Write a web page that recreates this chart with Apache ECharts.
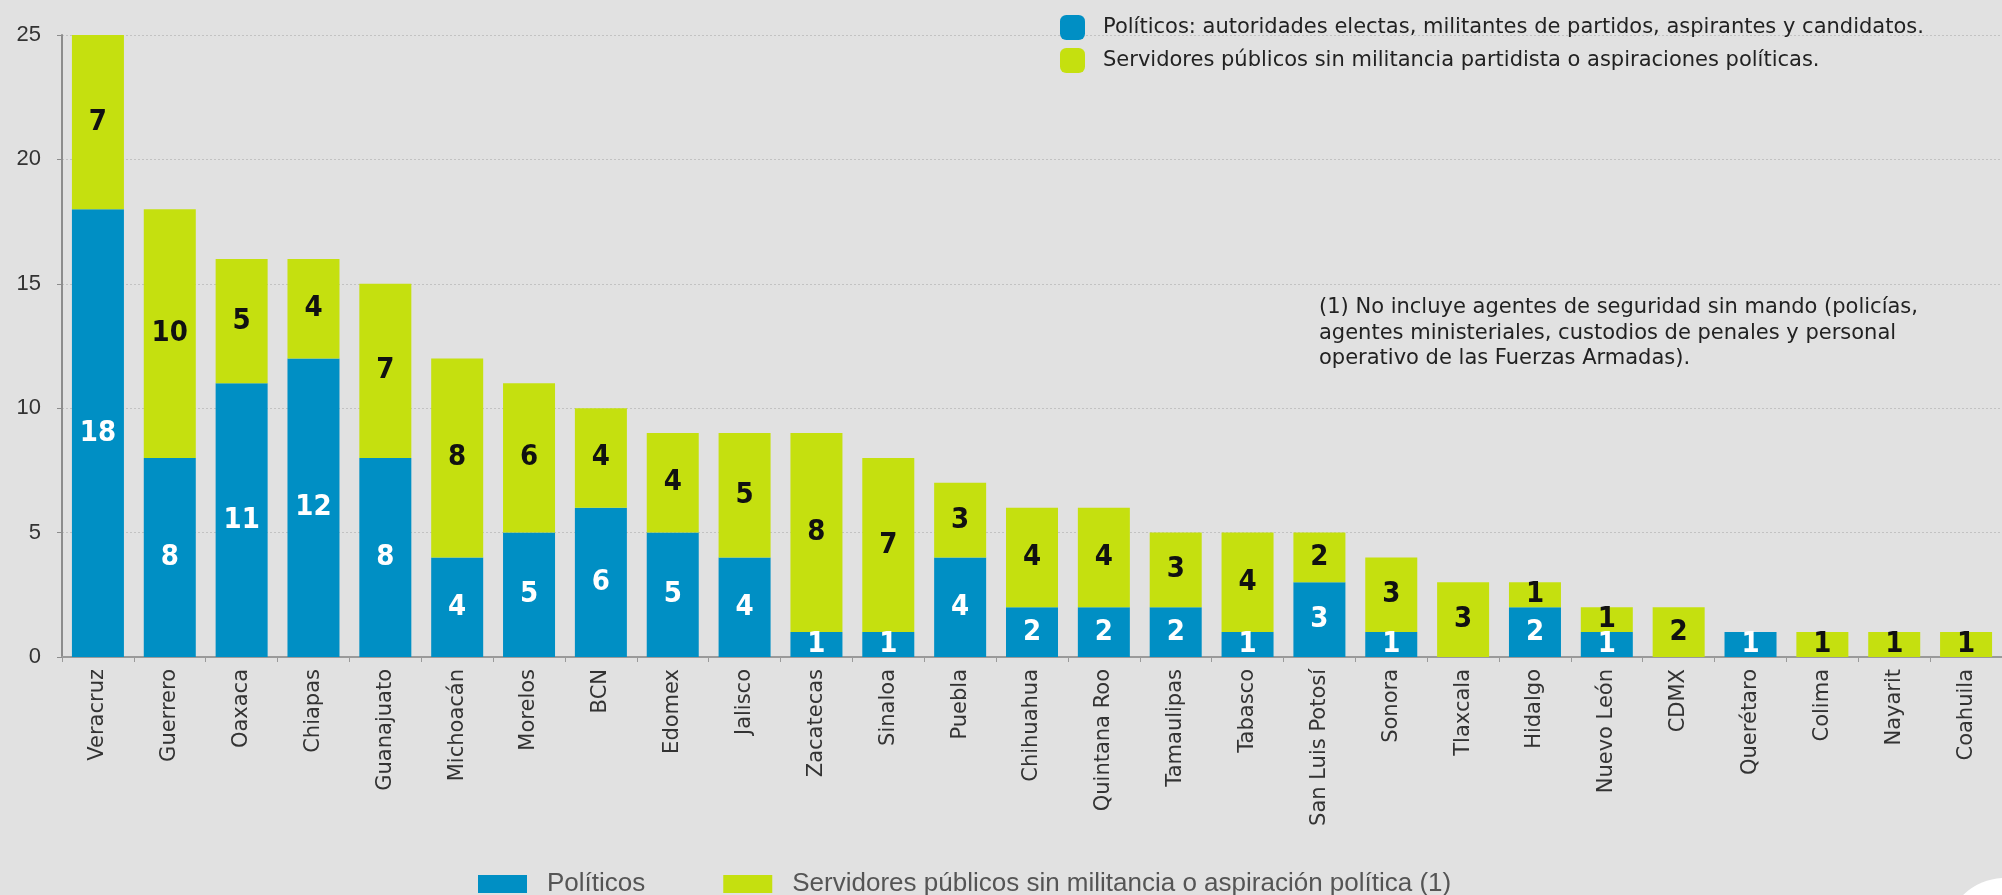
<!DOCTYPE html>
<html>
<head>
<meta charset="utf-8">
<script src="https://cdn.jsdelivr.net/npm/echarts@6/dist/echarts.min.js"></script>
<style>
  html, body { margin: 0; padding: 0; background: #e1e1e1; }
  #chart { width: 2002px; height: 895px; }
</style>
</head>
<body>
<div id="chart"></div>
<script>
const estados = ['Veracruz', 'Guerrero', 'Oaxaca', 'Chiapas', 'Guanajuato', 'Michoacán', 'Morelos', 'BCN',
  'Edomex', 'Jalisco', 'Zacatecas', 'Sinaloa', 'Puebla', 'Chihuahua', 'Quintana Roo', 'Tamaulipas',
  'Tabasco', 'San Luis Potosí', 'Sonora', 'Tlaxcala', 'Hidalgo', 'Nuevo León', 'CDMX', 'Querétaro',
  'Colima', 'Nayarit', 'Coahuila'];
const politicos = [18, 8, 11, 12, 8, 4, 5, 6, 5, 4, 1, 1, 4, 2, 2, 2, 1, 3, 1, 0, 2, 1, 0, 1, 0, 0, 0];
const servidores = [7, 10, 5, 4, 7, 8, 6, 4, 4, 5, 8, 7, 3, 4, 4, 3, 4, 2, 3, 3, 1, 1, 2, 0, 1, 1, 1];
const yTicks = { min: 0, max: 25, interval: 5 };

const nombrePol = 'Políticos';
const nombreServ = 'Servidores públicos sin militancia o aspiración política (1)';
const descripciones = {
  [nombrePol]: 'Políticos: autoridades electas, militantes de partidos, aspirantes y candidatos.',
  [nombreServ]: 'Servidores públicos sin militancia partidista o aspiraciones políticas.'
};
const nota = '(1) No incluye agentes de seguridad sin mando (policías,\nagentes ministeriales, custodios de penales y personal\noperativo de las Fuerzas Armadas).';

const AZUL = '#008fc4';
const VERDE = '#c5e00f';
const labelFont = "'Liberation Sans Narrow', 'DejaVu Sans Condensed', 'Liberation Sans', sans-serif";

const chart = echarts.init(document.getElementById('chart'));

// etiquetas dentro de cada tramo, sin mostrar los ceros
const barLabel = (color) => ({
  show: true,
  position: 'inside',
  color: color,
  fontFamily: labelFont,
  fontWeight: 'bold',
  fontSize: 29,
  formatter: p => (p.value ? p.value : '')
});

chart.setOption({
  backgroundColor: '#e1e1e1',
  animation: false,
  // la ultima categoria queda cortada por el borde derecho, como en el original
  grid: { left: 62, top: 35, width: 1953, bottom: 238 },
  legend: [
    {
      data: [nombrePol, nombreServ],
      orient: 'vertical',
      left: 1055,
      top: 10,
      icon: 'roundRect',
      itemWidth: 25,
      itemHeight: 25,
      itemGap: 8,
      selectedMode: false,
      formatter: n => descripciones[n],
      textStyle: { fontFamily: 'DejaVu Sans', fontSize: 21, color: '#222', padding: [0, 0, 0, 13] }
    },
    {
      data: [nombrePol, nombreServ],
      left: 473,
      top: 866,
      icon: 'rect',
      itemWidth: 49,
      itemHeight: 18,
      itemGap: 78,
      selectedMode: false,
      textStyle: { fontFamily: 'Liberation Sans', fontSize: 26, color: '#555', padding: [0, 0, 0, 15] }
    }
  ],
  xAxis: {
    type: 'category',
    data: estados,
    axisLine: { lineStyle: { color: '#9a9a9a', width: 2 } },
    axisTick: { show: true, length: 5, lineStyle: { color: '#9a9a9a' } },
    axisLabel: {
      rotate: 90,
      interval: 0,
      margin: 12,
      fontFamily: 'DejaVu Sans',
      fontSize: 21,
      color: '#333'
    }
  },
  yAxis: {
    type: 'value',
    min: yTicks.min,
    max: yTicks.max,
    interval: yTicks.interval,
    axisLine: { show: true, lineStyle: { color: '#8c8c8c', width: 2 } },
    axisTick: { show: true, length: 5, lineStyle: { color: '#8c8c8c' } },
    axisLabel: { margin: 21, fontFamily: 'Liberation Sans', fontSize: 22, color: '#333' },
    splitLine: { lineStyle: { color: '#c2c2c2', type: [2, 2], width: 1 } }
  },
  series: [
    {
      name: nombrePol,
      type: 'bar',
      stack: 'total',
      barWidth: 52,
      data: politicos,
      itemStyle: { color: AZUL },
      label: barLabel('#fff')
    },
    {
      name: nombreServ,
      type: 'bar',
      stack: 'total',
      barWidth: 52,
      data: servidores,
      itemStyle: { color: VERDE },
      label: barLabel('#111')
    }
  ],
  graphic: [
    {
      type: 'text',
      left: 1319,
      top: 295,
      style: {
        text: nota,
        fontFamily: 'DejaVu Sans',
        fontSize: 21,
        lineHeight: 25.5,
        fill: '#222'
      }
    },
    {
      type: 'circle',
      shape: { cx: 2005, cy: 938, r: 60 },
      style: { fill: '#fff' }
    }
  ]
});
</script>
</body>
</html>
